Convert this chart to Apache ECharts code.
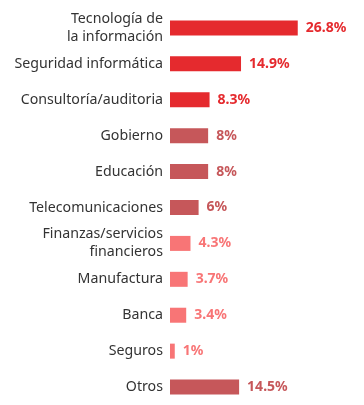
<!DOCTYPE html>
<html>
<head>
<meta charset="utf-8">
<script src="https://cdn.jsdelivr.net/npm/echarts@6/dist/echarts.min.js"></script>
<style>html,body{margin:0;padding:0;background:#fff}#c{width:364px;height:405px}</style>
</head>
<body>
<div id="c"></div>
<script>
const categories = ["Tecnología de\nla información","Seguridad informática","Consultoría/auditoria","Gobierno","Educación","Telecomunicaciones","Finanzas/servicios\nfinancieros","Manufactura","Banca","Seguros","Otros"];
const values = [26.8,14.9,8.3,8,8,6,4.3,3.7,3.4,1,14.5];
const colorGroups = ["a","a","a","b","b","b","c","c","c","c","b"];
const palette = {a:"#E52A2E", b:"#C6575A", c:"#F87576"};

const chart = echarts.init(document.getElementById('c'));
chart.setOption({
  animation:false,
  grid:{left:170, top:10, width:143, height:398},
  xAxis:{type:'value', min:0, max:30, show:false},
  yAxis:{type:'category', data:categories, inverse:true,
    axisLine:{show:false}, axisTick:{show:false},
    axisLabel:{color:'#333', fontFamily:'Noto Sans', fontSize:14.2, margin:7, lineHeight:18, align:'right'}},
  series:[{type:'bar', barWidth:15,
    data: values.map((v,i)=>({value:v, itemStyle:{color:palette[colorGroups[i]]},
      label:{color:palette[colorGroups[i]]}})),
    label:{show:true, position:'right', distance:8, fontFamily:'Noto Sans', fontWeight:'bold', fontSize:14,
      formatter:p=>p.value+'%'}
  }]
});
</script>
</body>
</html>
